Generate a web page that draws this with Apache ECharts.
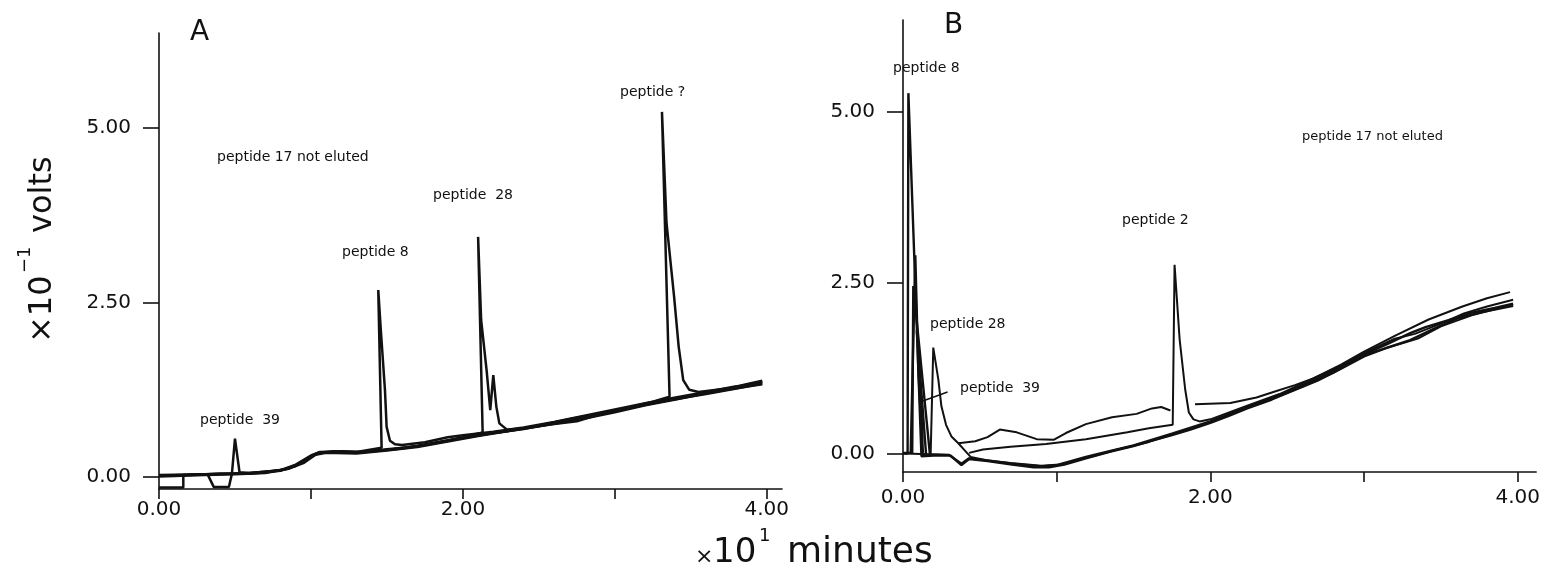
<!DOCTYPE html>
<html><head><meta charset="utf-8">
<script src="https://cdn.jsdelivr.net/npm/echarts@6.0.0/dist/echarts.min.js"></script>
<style>html,body{margin:0;padding:0;background:#fff}#c{width:1543px;height:573px}</style>
</head><body><div id="c"></div><script>
// ---- Data (x: ×10 minutes, y: ×10^-1 volts) ----
const yTicks = [0, 2.5, 5];
const xTicks = [0, 1, 2, 3, 4];
const xLabels = [0, 2, 4];

// Panel A runs
const aRun17 = [[0,0.02],[0.2,0.03],[0.4,0.05],[0.6,0.05],[0.8,0.09],[0.9,0.17],[1.0,0.3],[1.05,0.35],[1.15,0.36],[1.3,0.35],[1.45,0.38],[1.6,0.41],[1.8,0.48],[2.0,0.56],[2.2,0.63],[2.4,0.69],[2.6,0.77],[2.8,0.86],[3.0,0.95],[3.2,1.04],[3.4,1.12],[3.6,1.19],[3.8,1.27],[3.97,1.34]];
const aRun39 = [[0,0.03],[0.32,0.04],[0.36,-0.14],[0.46,-0.14],[0.48,0.05],[0.5,0.55],[0.53,0.07],[0.6,0.06],[0.8,0.1],[0.9,0.18],[1.0,0.31],[1.06,0.36],[1.2,0.37],[1.35,0.36],[1.5,0.4],[1.7,0.44],[1.9,0.52],[2.1,0.6],[2.3,0.66],[2.5,0.73],[2.7,0.8],[2.8,0.84],[3.0,0.93],[3.2,1.03],[3.4,1.11],[3.6,1.2],[3.8,1.29],[3.97,1.37]];
const aRun8 = [[0,-0.15],[0.16,-0.15],[0.16,0.03],[0.4,0.05],[0.6,0.06],[0.8,0.1],[0.9,0.16],[1.0,0.29],[1.05,0.34],[1.15,0.37],[1.3,0.36],[1.465,0.42],[1.443,2.68],[1.46,2.1],[1.487,1.25],[1.498,0.72],[1.52,0.52],[1.553,0.47],[1.6,0.46],[1.75,0.5],[1.9,0.57],[2.0,0.6],[2.2,0.65],[2.4,0.71],[2.6,0.79],[2.8,0.88],[3.0,0.97],[3.2,1.06],[3.4,1.14],[3.6,1.22],[3.8,1.3],[3.97,1.38]];
const aRun28 = [[0,0.02],[0.3,0.04],[0.5,0.05],[0.7,0.07],[0.85,0.12],[0.95,0.22],[1.03,0.33],[1.1,0.36],[1.3,0.35],[1.5,0.39],[1.7,0.45],[1.9,0.53],[2.0,0.57],[2.13,0.64],[2.10,3.44],[2.12,2.25],[2.156,1.53],[2.18,0.96],[2.20,1.46],[2.22,1.01],[2.24,0.77],[2.29,0.68],[2.4,0.7],[2.6,0.76],[2.75,0.8],[2.9,0.9],[3.1,0.99],[3.3,1.08],[3.5,1.16],[3.7,1.24],[3.97,1.33]];
const aRun7 = [[0,0.01],[0.3,0.03],[0.5,0.04],[0.7,0.06],[0.85,0.12],[0.95,0.2],[1.03,0.32],[1.1,0.35],[1.3,0.34],[1.5,0.38],[1.7,0.43],[1.9,0.51],[2.1,0.59],[2.3,0.66],[2.5,0.74],[2.7,0.83],[2.9,0.91],[3.1,1.0],[3.25,1.08],[3.36,1.15],[3.31,5.23],[3.34,3.64],[3.39,2.58],[3.42,1.87],[3.45,1.39],[3.49,1.25],[3.55,1.22],[3.7,1.26],[3.85,1.3],[3.97,1.36]];

// Panel B runs
const bRun8 = [[0,0.0],[0.03,0.0],[0.035,5.27],[0.12,-0.04],[0.2,-0.03],[0.31,-0.03],[0.38,-0.17],[0.43,-0.08],[0.55,-0.11],[0.71,-0.16],[0.85,-0.2],[0.95,-0.2],[1.05,-0.16],[1.19,-0.07],[1.35,0.03],[1.5,0.11],[1.62,0.19],[1.75,0.27],[1.87,0.35],[2.0,0.45],[2.12,0.55],[2.24,0.66],[2.4,0.79],[2.55,0.93],[2.7,1.07],[2.85,1.24],[3.0,1.42],[3.15,1.55],[3.3,1.66],[3.45,1.82],[3.6,1.97],[3.75,2.06],[3.97,2.16]];
const bRun39 = [[0,0.01],[0.06,0.01],[0.067,2.45],[0.175,-0.01],[0.3,-0.02],[0.38,-0.15],[0.43,-0.07],[0.55,-0.1],[0.71,-0.15],[0.9,-0.19],[1.0,-0.17],[1.19,-0.05],[1.35,0.04],[1.5,0.12],[1.75,0.29],[2.0,0.47],[2.24,0.68],[2.4,0.81],[2.55,0.95],[2.7,1.1],[2.85,1.27],[3.0,1.45],[3.15,1.6],[3.3,1.76],[3.4,1.85],[3.55,1.95],[3.7,2.06],[3.85,2.13],[3.97,2.19]];
const bRun39b = [[0.05,0.0],[0.08,2.9],[0.1,1.2],[0.13,0.0],[0.09,1.8],[0.15,-0.01]];
const bRun28 = [[0,0.0],[0.18,-0.01],[0.197,1.55],[0.23,1.08],[0.25,0.69],[0.28,0.42],[0.315,0.25],[0.36,0.15],[0.4,0.05],[0.44,-0.05],[0.55,-0.1],[0.7,-0.14],[0.9,-0.18],[1.02,-0.16],[1.2,-0.06],[1.4,0.06],[1.6,0.17],[1.8,0.31],[2.0,0.46],[2.2,0.64],[2.4,0.8],[2.6,0.98],[2.8,1.18],[3.0,1.44],[3.2,1.58],[3.35,1.68],[3.5,1.86],[3.7,2.02],[3.97,2.18]];
const bRunTop1 = [[0.36,0.15],[0.47,0.18],[0.55,0.24],[0.63,0.35],[0.74,0.31],[0.87,0.21],[0.98,0.2],[1.06,0.3],[1.19,0.43],[1.36,0.53],[1.52,0.58],[1.62,0.66],[1.68,0.68],[1.74,0.63]];
const bRunTop2 = [[1.9,0.72],[2.13,0.74],[2.3,0.82],[2.41,0.9],[2.55,1.0],[2.67,1.1],[2.85,1.3],[3.0,1.49],[3.2,1.72],[3.42,1.96],[3.64,2.15],[3.8,2.27],[3.95,2.36]];
const bRun2 = [[0.43,0.01],[0.52,0.06],[0.7,0.1],[0.93,0.14],[1.19,0.21],[1.46,0.31],[1.6,0.37],[1.755,0.42],[1.767,2.76],[1.8,1.67],[1.836,0.94],[1.86,0.6],[1.89,0.5],[1.93,0.47],[2.0,0.5],[2.24,0.7],[2.45,0.87],[2.67,1.1],[2.85,1.28],[3.0,1.47],[3.2,1.68],[3.33,1.75],[3.5,1.9],[3.65,2.05],[3.8,2.15],[3.97,2.25]];
const bLeader39 = [[0.12,0.76],[0.29,0.9]];

// ---- Chart ----
const INK = '#111';
const FONT = "'DejaVu Sans', 'Liberation Sans', sans-serif";
const chart = echarts.init(document.getElementById('c'), null, {renderer: 'canvas'});

function xAx(gi, max, margin) {
  return {
    type: 'value', gridIndex: gi, min: 0, max: max,
    axisLine: {show: true, onZero: false, lineStyle: {color: INK, width: 1.6}},
    axisTick: {show: true, customValues: xTicks, length: 10, inside: false, lineStyle: {color: INK, width: 1.6}},
    axisLabel: {show: true, customValues: xLabels, formatter: v => v.toFixed(2), color: INK, fontSize: 20, fontFamily: FONT, margin: margin},
    splitLine: {show: false}
  };
}
function yAx(gi, min, max) {
  return {
    type: 'value', gridIndex: gi, min: min, max: max,
    axisLine: {show: true, onZero: false, lineStyle: {color: INK, width: 1.6}},
    axisTick: {show: true, customValues: yTicks, length: 16, lineStyle: {color: INK, width: 1.6}},
    axisLabel: {show: true, customValues: yTicks, formatter: v => v.toFixed(2), color: INK, fontSize: 20, fontFamily: FONT, margin: 28},
    splitLine: {show: false}
  };
}
function line(data, gi, w) {
  return {type: 'line', xAxisIndex: gi, yAxisIndex: gi, data: data, showSymbol: false, symbol: 'none',
    lineStyle: {color: INK, width: w || 2}, silent: true, animation: false, clip: false};
}
function txt(x, y, s, size, extra) {
  return Object.assign({type: 'text', x: x, y: y, silent: true,
    style: {text: s, fill: INK, fontSize: size, fontFamily: FONT, textAlign: 'left', textVerticalAlign: 'middle'}}, extra || {});
}

const option = {
  backgroundColor: '#fff',
  animation: false,
  grid: [
    {left: 159, top: 33, width: 623, height: 456, containLabel: false},
    {left: 903, top: 20, width: 636, height: 452, containLabel: false}
  ],
  xAxis: [xAx(0, 4.1, 11), xAx(1, 4.12, 16)],
  yAxis: [yAx(0, -0.17, 6.36), yAx(1, -0.27, 6.34)],
  series: [
    line(aRun17, 0, 2.5), line(aRun39, 0, 2.5), line(aRun8, 0, 2.5), line(aRun28, 0, 2.5), line(aRun7, 0, 2.5),
    line(bRun8, 1, 2.4), line(bRun39, 1, 2.4), line(bRun39b, 1, 2.4), line(bRun28, 1, 2), line(bRunTop1, 1), line(bRunTop2, 1), line(bRun2, 1),
    line(bLeader39, 1, 1.6)
  ],
  graphic: [
    txt(190, 33, 'A', 28),
    txt(944, 26, 'B', 28),
    // panel A annotations
    txt(217, 157, 'peptide 17 not eluted', 14),
    txt(200, 420, 'peptide  39', 14),
    txt(342, 252, 'peptide 8', 14),
    txt(433, 195, 'peptide  28', 14),
    txt(620, 92, 'peptide ?', 14),
    // panel B annotations
    txt(893, 68, 'peptide 8', 14),
    txt(930, 324, 'peptide 28', 14),
    txt(960, 388, 'peptide  39', 14),
    txt(1122, 220, 'peptide 2', 14),
    txt(1302, 137, 'peptide 17 not eluted', 13),
    // x-axis title
    txt(695, 557, '×', 22),
    txt(713, 553, '10', 34),
    txt(759, 536, '1', 18),
    txt(787, 553, 'minutes', 36),
    // y-axis title (rotated)
    {type: 'group', x: 43, y: 343, rotation: Math.PI / 2, silent: true, children: [
      txt(0, 0, '×10', 32),
      txt(70, -18, '−1', 18),
      txt(110, 0, 'volts', 32)
    ]}
  ]
};
chart.setOption(option);
</script></body></html>
